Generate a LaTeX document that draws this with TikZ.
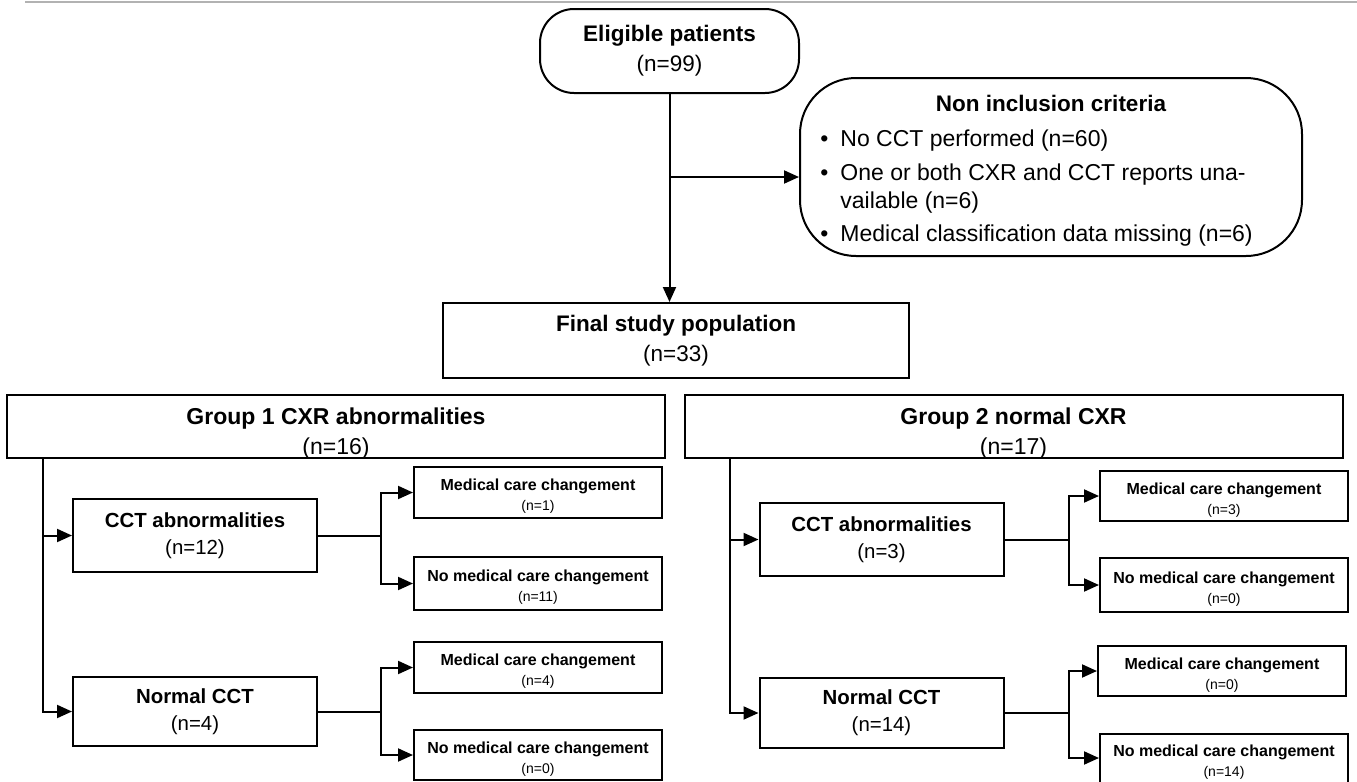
\documentclass[tikz,border=0pt]{standalone}
\usepackage{fontspec}
\setmainfont{Liberation Sans}
\usetikzlibrary{arrows.meta}
\newcommand{\nsmall}[1]{{\fontsize{7}{8}\selectfont #1}}
\newcommand{\grptext}[2]{\raisebox{-3.5pt}[\height][\depth]{\begin{tabular}{@{}c@{}}\textbf{#1}\\#2\end{tabular}}}
\newcommand{\outtext}[2]{\raisebox{-2pt}[\height][\depth]{\begin{tabular}{@{}c@{}}\textbf{#1}\\\nsmall{#2}\end{tabular}}}

\begin{document}
\begin{tikzpicture}[x=0.5pt, y=-0.5pt,
    box/.style={draw, line width=1pt, inner sep=0pt, align=center},
    mainbox/.style={box, font=\fontsize{11.25}{15}\selectfont},
    grpbox/.style={box, minimum width=329pt, minimum height=31.5pt, font=\fontsize{11.5}{15}\selectfont},
    cctbox/.style={box, minimum width=122pt, font=\fontsize{10.2}{13.5}\selectfont},
    outbox/.style={box, minimum width=124pt, font=\fontsize{8}{10}\selectfont},
    link/.style={line width=1pt},
    arr/.style={link, -{Triangle[length=7.5pt, width=6.5pt]}}]
  \useasboundingbox (0,0) rectangle (1357,782);
  \draw[gray!60, line width=0.8pt] (25,2) -- (1357,2);

  \node[mainbox, rounded corners=17pt, minimum width=129.5pt, minimum height=42pt] (elig) at (669.5,51) {\textbf{Eligible patients}\\(n=99)};
  \node[box, rounded corners=28pt, minimum width=251pt, minimum height=89pt] (excl) at (1051,167) {};
  \node[anchor=base, inner sep=0pt, font=\fontsize{11.25}{14}\selectfont\bfseries] (excltitle) at (1051,111) {Non inclusion criteria};
  \node[anchor=base west, inner sep=0pt, font=\fontsize{11.5}{14}\selectfont] (excllist) at (820,146) {%
    \begin{tabular}[t]{@{}l@{\hspace{6pt}}l@{}}
      \textbullet & No CCT performed (n=60)\\[3pt]
      \textbullet & One or both CXR and CCT reports una-\\
                  & vailable (n=6)\\[2.5pt]
      \textbullet & Medical classification data missing (n=6)
    \end{tabular}};
  \node[mainbox, minimum width=233pt, minimum height=37.5pt] (final) at (676,340.5) {\textbf{Final study population}\\(n=33)};

  \node[grpbox] (grp1) at (336,426.5) {\grptext{Group 1 CXR abnormalities}{(n=16)}};
  \node[grpbox] (grp2) at (1013.5,426.5) {\grptext{Group 2 normal CXR}{(n=17)}};

  \node[cctbox, minimum height=36.5pt] (g1abn) at (195,535.5) {\textbf{CCT abnormalities}\\(n=12)};
  \node[cctbox, minimum height=34.5pt] (g1norm) at (195,711.5) {\textbf{Normal CCT}\\(n=4)};
  \node[outbox, minimum height=25.5pt] (g1abnyes) at (538,492.5) {\outtext{Medical care changement}{(n=1)}};
  \node[outbox, minimum height=26.5pt] (g1abnno) at (538,583.5) {\outtext{No medical care changement}{(n=11)}};
  \node[outbox, minimum height=25.5pt] (g1normyes) at (538,667.5) {\outtext{Medical care changement}{(n=4)}};
  \node[outbox, minimum height=25pt] (g1normno) at (538,755) {\outtext{No medical care changement}{(n=0)}};

  \node[cctbox, minimum height=36.5pt] (g2abn) at (881.5,539.5) {\textbf{CCT abnormalities}\\(n=3)};
  \node[cctbox, minimum height=35pt] (g2norm) at (881.5,713) {\textbf{Normal CCT}\\(n=14)};
  \node[outbox, minimum height=25pt] (g2abnyes) at (1224,496) {\outtext{Medical care changement}{(n=3)}};
  \node[outbox, minimum height=27pt] (g2abnno) at (1224,585) {\outtext{No medical care changement}{(n=0)}};
  \node[outbox, minimum height=25pt] (g2normyes) at (1222,671) {\outtext{Medical care changement}{(n=0)}};
  \node[outbox, minimum height=24.5pt] (g2normno) at (1224,758) {\outtext{No medical care changement}{(n=14)}};

  \draw[arr] (elig.south) -- (elig.south |- final.north);
  \coordinate (split) at (669.5,177);
  \draw[arr] (split) -- (split -| excl.west);

  \coordinate (g1top) at (43,458);
  \draw[arr] (g1top) |- (g1norm.west);
  \draw[arr] (g1top |- g1abn.west) -- (g1abn.west);
  \draw[link] (g1abn.east) -- ++(63,0) coordinate (g1aj);
  \draw[arr] (g1aj) |- (g1abnyes.west);
  \draw[arr] (g1aj) |- (g1abnno.west);
  \draw[link] (g1norm.east) -- ++(63,0) coordinate (g1nj);
  \draw[arr] (g1nj) |- (g1normyes.west);
  \draw[arr] (g1nj) |- (g1normno.west);

  \coordinate (g2top) at (730,458);
  \draw[arr] (g2top) |- (g2norm.west);
  \draw[arr] (g2top |- g2abn.west) -- (g2abn.west);
  \draw[link] (g2abn.east) -- ++(64,0) coordinate (g2aj);
  \draw[arr] (g2aj) |- (g2abnyes.west);
  \draw[arr] (g2aj) |- (g2abnno.west);
  \draw[link] (g2norm.east) -- ++(64,0) coordinate (g2nj);
  \draw[arr] (g2nj) |- (g2normyes.west);
  \draw[arr] (g2nj) |- (g2normno.west);
\end{tikzpicture}
\end{document}
